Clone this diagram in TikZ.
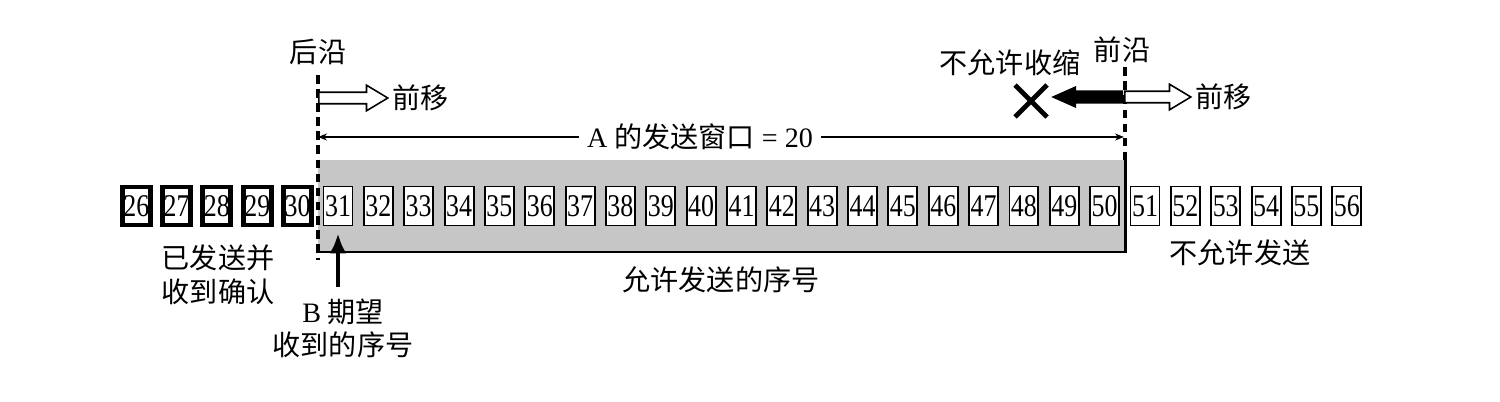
\documentclass[tikz,border=0pt]{standalone}
\usepackage{fontspec}
\usepackage{graphicx}
\setmainfont{Liberation Serif}
\newfontfamily\cjk{Noto Sans CJK SC}
\usetikzlibrary{arrows.meta,shapes.arrows,positioning}

\tikzset{
  seqbox/.style={draw, line width=1.1pt, fill=white, inner sep=0pt,
    minimum width=0.58cm, minimum height=0.78cm, font=\fontsize{18}{18}\selectfont},
  donebox/.style={seqbox, line width=2.8pt, minimum width=0.56cm, minimum height=0.76cm},
  lbl/.style={font=\cjk\fontsize{16}{19.3}\selectfont, align=center, inner sep=0pt},
  edgeline/.style={line width=2pt, dash pattern=on 5pt off 3pt},
  movearrow/.style={single arrow, draw, fill=white, line width=0.9pt, inner xsep=0pt,
    inner ysep=0.1cm, single arrow head extend=0.14cm, single arrow tip angle=62,
    minimum height=1.38cm, anchor=tail},
  dimline/.style={line width=0.8pt, -{Stealth[length=0.18cm,width=0.14cm]}},
  uparrow/.style={line width=2.8pt, -{Latex[length=0.4cm,width=0.34cm]}},
}
\newcommand{\seqnum}[1]{\scalebox{0.82}[1]{#1}}

\begin{document}
\begin{tikzpicture}[x=0.02cm, y=-0.02cm]
  \useasboundingbox (0,0) rectangle (1500,402);

  % window
  \fill[gray!45] (318,160) rectangle (1125,252);
  \draw[line width=1.7pt] (1125,160) -- (1125,252) -- (318,252);

  \foreach \n in {26,...,30}
    \node[donebox] (s\n) at ({338+(\n-31)*40.35},206) {\seqnum{\n}};
  \foreach \n in {31,...,56}
    \node[seqbox] (s\n) at ({338+(\n-31)*40.35},206) {\seqnum{\n}};

  % edges
  \node[lbl] (rear) at (318,52) {后沿};
  \node[lbl] (front) at (1122,50) {前沿};
  \coordinate (rearend) at (318,260);
  \coordinate (frontend) at (1125,160);
  \draw[edgeline, shorten <=0.2cm] (rear.south) -- (rearend);
  \draw[edgeline, shorten <=0.08cm] (front.south -| frontend) -- (frontend);

  \node[movearrow] (rearmove) at (318,98) {};
  \node[lbl, right=0.06cm of rearmove] (rearmovetxt) {前移};
  \node[movearrow, fill=black, shape border rotate=180, single arrow head extend=0.08cm,
    single arrow tip angle=48] (shrink) at (1123,97) {};
  \node[movearrow, minimum height=1.32cm] (frontmove) at (1124,97) {};
  \node[lbl, right=0.06cm of frontmove] (frontmovetxt) {前移};
  \node[lbl] (noshrink) at (1010,63) {不允许收缩};
  \coordinate (nox) at (1031,101);
  \draw[line width=2.8pt] (nox) +(-16,-16) -- +(16,16) (nox) +(-16,16) -- +(16,-16);

  \coordinate (wl) at (318,137);
  \coordinate (wr) at (1124,137);
  \node[font=\fontsize{16}{16}\selectfont, inner xsep=0.16cm] (wnd) at (700,137)
    {A {\cjk 的发送窗口} = 20};
  \draw[dimline] (wnd) -- (wl);
  \draw[dimline] (wnd) -- (wr);

  % labels below
  \node[lbl] (acked) at (218,275) {已发送并\\收到确认};
  \node[lbl] (allowed) at (721,280) {允许发送的序号};
  \node[lbl] (blocked) at (1240,253) {不允许发送};
  \node[lbl, font=\cjk\fontsize{16}{18.7}\selectfont] (bexp) at (343,328)
    {{\normalfont B} 期望\\收到的序号};
  \draw[uparrow, shorten <=0.22cm, shorten >=0.14cm] (bexp.north -| s31) -- (s31.south);
\end{tikzpicture}
\end{document}
